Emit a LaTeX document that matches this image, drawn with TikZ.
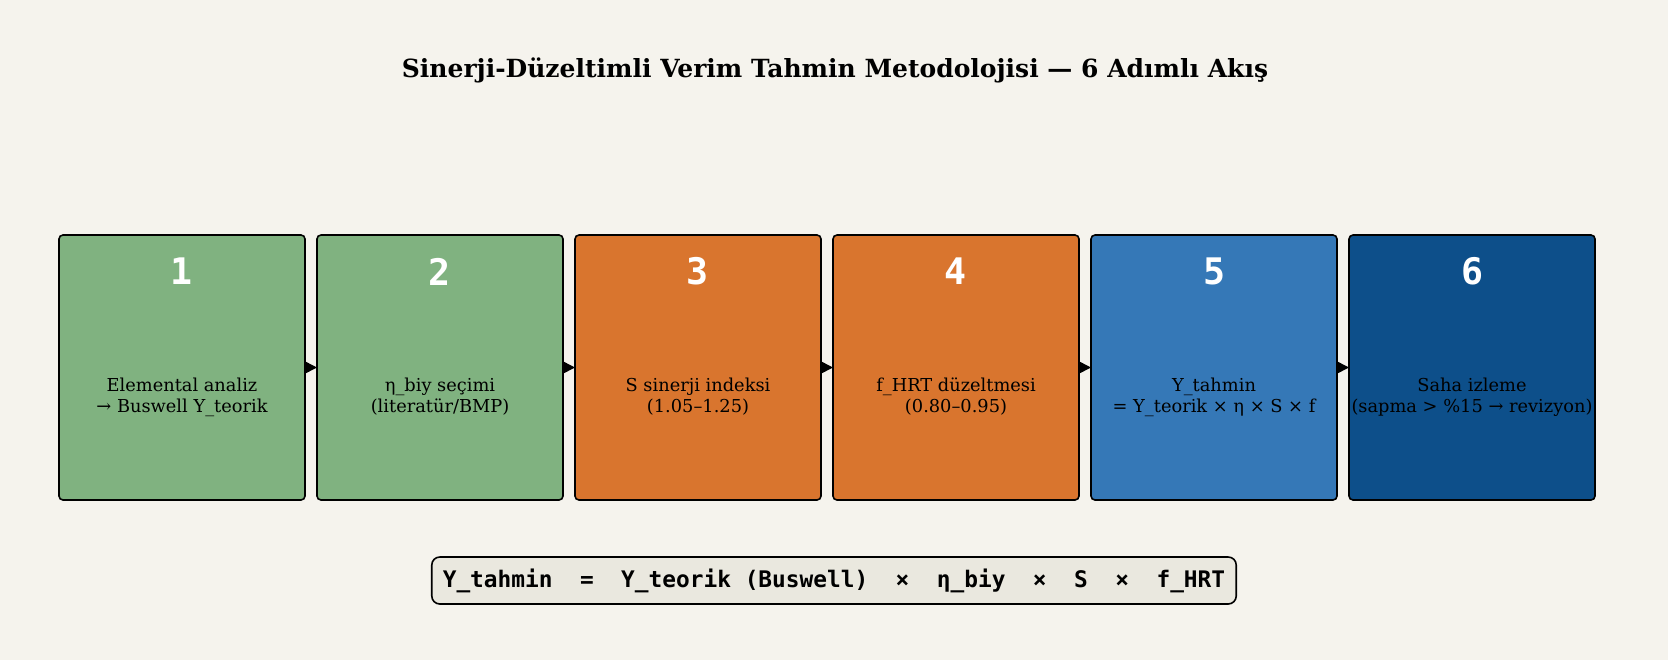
\documentclass[tikz,border=0pt]{standalone}
\usepackage{fontspec}
\setmainfont{DejaVu Serif}
\setmonofont{DejaVu Sans Mono}
\usetikzlibrary{arrows.meta}
\usetikzlibrary{positioning}

\definecolor{paper}{HTML}{F5F3ED}
\definecolor{formulafill}{HTML}{EAE8DF}
\definecolor{stepgreen}{HTML}{80B280}
\definecolor{steporange}{HTML}{D9752E}
\definecolor{stepblue}{HTML}{3578B7}
\definecolor{stepnavy}{HTML}{0D4F8A}

\tikzset{
    stepbox/.style={
        rectangle, rounded corners=2pt, outer sep=0pt,
        minimum width=123pt, minimum height=132.5pt,
        draw=black, line width=0.8pt,
    },
    stepnum/.style={
        text=white, font=\ttfamily\bfseries\fontsize{18.3}{22}\selectfont,
    },
    steptext/.style={
        align=center, text=black, font=\fontsize{8.9}{10.5}\selectfont,
    },
    flow/.style={
        -{Triangle[length=6pt,width=6pt]}, line width=0.8pt, draw=black,
    },
}

\begin{document}
\begin{tikzpicture}[x=0.5pt, y=-0.5pt]
        \fill[paper] (0,0) rectangle (1668,660);
        \useasboundingbox (0,0) rectangle (1668,660);

        \node (title) at(835,77.7) [
            anchor=base, text=black,
            font=\bfseries\fontsize{12.5}{14}\selectfont,
        ] {Sinerji-Düzeltimli Verim Tahmin Metodolojisi — 6 Adımlı Akış};

        % the six steps
        \node (box1) at(59,367.5) [stepbox, anchor=west, fill=stepgreen] {};
        \node (box2) [stepbox, right=6pt of box1, fill=stepgreen] {};
        \node (box3) [stepbox, right=6pt of box2, fill=steporange] {};
        \node (box4) [stepbox, right=6pt of box3, fill=steporange] {};
        \node (box5) [stepbox, right=6pt of box4, fill=stepblue] {};
        \node (box6) [stepbox, right=6pt of box5, fill=stepnavy] {};

        \node (num1) at(box1.north) [stepnum, yshift=-18.25pt] {1};
        \node (num2) at(box2.north) [stepnum, yshift=-18.25pt] {2};
        \node (num3) at(box3.north) [stepnum, yshift=-18.25pt] {3};
        \node (num4) at(box4.north) [stepnum, yshift=-18.25pt] {4};
        \node (num5) at(box5.north) [stepnum, yshift=-18.25pt] {5};
        \node (num6) at(box6.north) [stepnum, yshift=-18.25pt] {6};

        \node (text1) at(box1.center) [steptext, yshift=-14.75pt] {Elemental analiz\\→ Buswell Y\_teorik};
        \node (text2) at(box2.center) [steptext, yshift=-14.75pt] {η\_biy seçimi\\(literatür/BMP)};
        \node (text3) at(box3.center) [steptext, yshift=-14.75pt] {S sinerji indeksi\\(1.05–1.25)};
        \node (text4) at(box4.center) [steptext, yshift=-14.75pt] {f\_HRT düzeltmesi\\(0.80–0.95)};
        \node (text5) at(box5.center) [steptext, yshift=-14.75pt] {Y\_tahmin\\= Y\_teorik × η × S × f};
        \node (text6) at(box6.center) [steptext, yshift=-14.75pt] {Saha izleme\\(sapma > \%15 → revizyon)};

        \draw[flow] (box1.east) -- (box2.west);
        \draw[flow] (box2.east) -- (box3.west);
        \draw[flow] (box3.east) -- (box4.west);
        \draw[flow] (box4.east) -- (box5.west);
        \draw[flow] (box5.east) -- (box6.west);

        % overall formula
        \node (formula) at(834,580.5) [
            rectangle, rounded corners=4pt,
            draw=black, line width=0.8pt, fill=formulafill,
            inner xsep=5.5pt, minimum height=23.5pt,
            text=black, font=\ttfamily\bfseries\fontsize{11.4}{13}\selectfont,
        ] {Y\_tahmin\ \ =\ \ Y\_teorik (Buswell)\ \ ×\ \ η\_biy\ \ ×\ \ S\ \ ×\ \ f\_HRT};
    \end{tikzpicture}
\end{document}
